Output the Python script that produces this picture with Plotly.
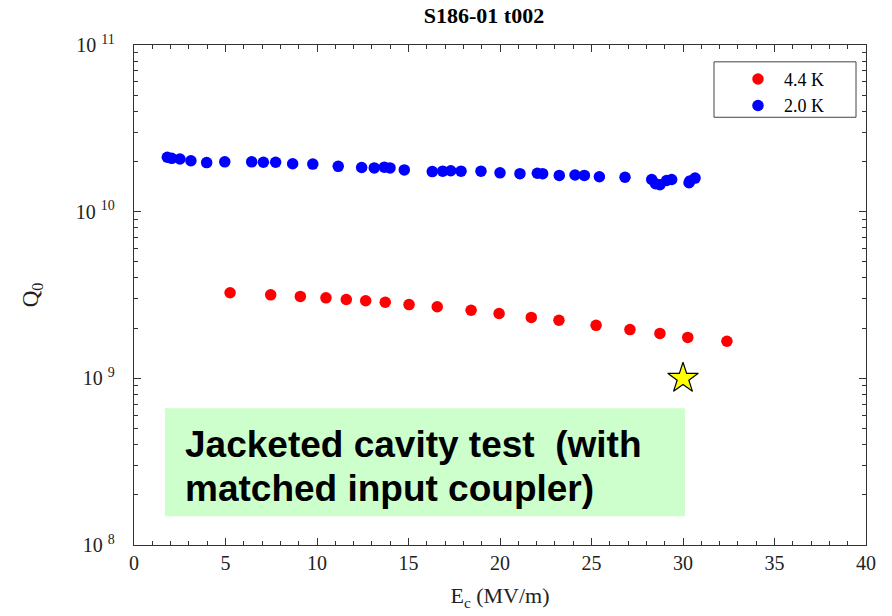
import numpy as np
import plotly.graph_objects as go

# ---- data ----
e_44 = [5.25, 7.47, 9.09, 10.49, 11.60, 12.66, 13.73, 15.03, 16.57, 18.42,
        19.95, 21.71, 23.22, 25.25, 27.10, 28.74, 30.26, 32.40]
q_44 = [3.26e9, 3.17e9, 3.10e9, 3.04e9, 2.97e9, 2.92e9, 2.86e9, 2.77e9, 2.69e9, 2.56e9,
        2.45e9, 2.32e9, 2.23e9, 2.08e9, 1.96e9, 1.86e9, 1.76e9, 1.67e9]

e_20 = [1.82, 2.06, 2.51, 3.11, 3.97, 4.96, 6.43, 7.07, 7.74, 8.67,
        9.77, 11.16, 12.44, 13.13, 13.68, 13.99, 14.77, 16.30, 16.87, 17.31,
        17.87, 18.96, 20.00, 21.09, 22.04, 22.33, 23.24, 24.10, 24.61, 25.43,
        26.83, 28.29, 28.50, 28.74, 29.11, 29.38, 30.33, 30.38, 30.66]
q_20 = [2.12e10, 2.09e10, 2.07e10, 2.02e10, 1.97e10, 1.99e10, 1.99e10, 1.98e10, 1.98e10, 1.94e10,
        1.93e10, 1.87e10, 1.84e10, 1.83e10, 1.85e10, 1.83e10, 1.78e10, 1.74e10, 1.75e10, 1.76e10,
        1.75e10, 1.75e10, 1.71e10, 1.69e10, 1.70e10, 1.69e10, 1.65e10, 1.66e10, 1.65e10, 1.62e10,
        1.61e10, 1.56e10, 1.47e10, 1.45e10, 1.54e10, 1.56e10, 1.49e10, 1.53e10, 1.59e10]

star_e = [30.0]
star_q = [1.0e9]

series_names = ["4.4 K", "2.0 K"]
title_text = "S186-01 t002"
note_lines = ["Jacketed cavity test  (with", "matched input coupler)"]

x_ticks = [0, 5, 10, 15, 20, 25, 30, 35, 40]
y_exps = [8, 9, 10, 11]

SERIF = "Liberation Serif"
SANS = "Liberation Sans"

fig = go.Figure()
fig.add_trace(go.Scatter(x=e_44, y=q_44, mode="markers", name=series_names[0],
                         marker=dict(color="#ff0000", size=11.5)))
fig.add_trace(go.Scatter(x=e_20, y=q_20, mode="markers", name=series_names[1],
                         marker=dict(color="#0000ff", size=11.5)))
fig.add_trace(go.Scatter(x=star_e, y=star_q, mode="markers", showlegend=False,
                         marker=dict(symbol="star", color="#ffff00", size=23,
                                     line=dict(color="black", width=1.2))))

minor_y = [m * 10.0 ** e for e in y_exps[:-1] for m in range(2, 10)]

fig.update_layout(
    width=892, height=616,
    margin=dict(l=134, r=26, t=45, b=66),
    paper_bgcolor="white", plot_bgcolor="white",
    title=dict(text="<b>" + title_text + "</b>", x=484 / 892, xref="container", xanchor="center",
               y=1 - 15 / 616, yref="container", yanchor="middle",
               font=dict(family=SERIF, size=22, color="black")),
    showlegend=True,
    legend=dict(x=(732 - 134) / 732, xanchor="left", y=1 - (61 - 45) / 505, yanchor="top",
                bgcolor="rgba(0,0,0,0)", borderwidth=0, itemwidth=42,
                font=dict(family=SERIF, size=18, color="black")),
    xaxis=dict(range=[0, 40], tickvals=x_ticks, ticktext=[str(v) for v in x_ticks],
               ticks="inside", ticklen=7, tickwidth=1, tickcolor="#333",
               minor=dict(dtick=1, ticks="inside", ticklen=4, tickcolor="#333", showgrid=False),
               showline=True, linecolor="#333", linewidth=1.3, mirror="ticks",
               showgrid=False, zeroline=False,
               tickfont=dict(family=SERIF, size=20, color="#222"),
               title=dict(text="E<sub>c</sub> (MV/m)", standoff=14,
                          font=dict(family=SERIF, size=22, color="#222"))),
    yaxis=dict(type="log", range=[8, 11],
               tickvals=[10.0 ** e for e in y_exps],
               ticktext=["10 <sup>%d</sup>" % e for e in y_exps],
               ticks="inside", ticklen=7, tickwidth=1, tickcolor="#333",
               minor=dict(tickvals=minor_y, ticks="inside", ticklen=4, tickcolor="#333", showgrid=False),
               showline=True, linecolor="#333", linewidth=1.3, mirror="ticks",
               showgrid=False, zeroline=False, ticklabelstandoff=14,
               tickfont=dict(family=SERIF, size=20, color="#222"),
               title=dict(text="Q<sub>0</sub>", standoff=30,
                          font=dict(family=SERIF, size=23, color="#222"))),
)

# legend frame
fig.add_shape(type="rect", xref="paper", yref="paper",
              x0=(714 - 134) / 732, x1=(856 - 134) / 732,
              y0=1 - (118 - 45) / 505, y1=1 - (62 - 45) / 505,
              line=dict(color="#444", width=1), fillcolor="rgba(0,0,0,0)")

# green note box
fig.add_shape(type="rect", xref="paper", yref="paper",
              x0=(165 - 134) / 732, x1=(685 - 134) / 732,
              y0=1 - (521 - 45) / 505, y1=1 - (412 - 45) / 505,
              line=dict(width=0), fillcolor="#ccffcc", layer="above")
for i, line in enumerate(note_lines):
    yc = [448, 493][i]
    fig.add_annotation(text="<b>" + line + "</b>", xref="paper", yref="paper",
                       x=(183 - 134) / 732, xanchor="left",
                       y=1 - (yc - 45) / 505, yanchor="middle", showarrow=False,
                       font=dict(family=SANS, size=37, color="black"))

fig.write_html("out.html")
